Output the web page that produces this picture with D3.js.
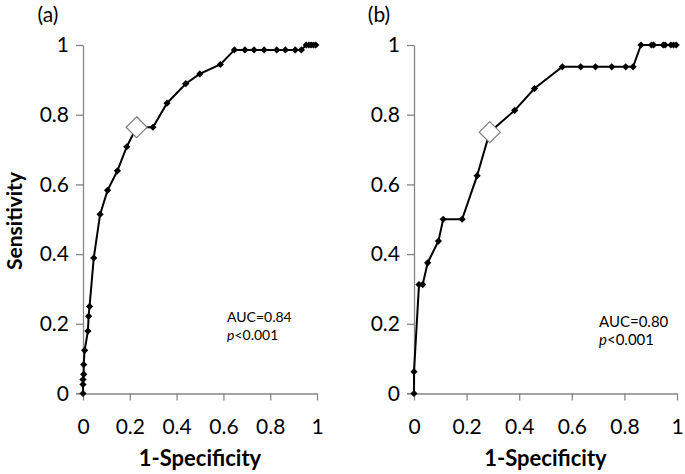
<!DOCTYPE html>
<html>
<head>
<meta charset="utf-8">
<script src="https://cdn.jsdelivr.net/npm/d3@7/dist/d3.min.js"></script>
<style>
  html, body { margin: 0; padding: 0; background: #fff; }
  svg { display: block; }
  text { font-family: Lato, "Open Sans", sans-serif; fill: #000; }
</style>
</head>
<body>
<svg id="chart" width="685" height="474"></svg>
<script>
// ----- data -----
const fprA  = [0, 0, 0, 0.003, 0.003, 0.007, 0.021, 0.024, 0.028, 0.046, 0.073, 0.105, 0.147, 0.187, 0.229, 0.299, 0.359, 0.439, 0.499, 0.587, 0.647, 0.692, 0.731, 0.774, 0.828, 0.865, 0.907, 0.933, 0.954, 0.965, 0.975, 0.985, 0.995];
const tprA  = [0, 0.026, 0.040, 0.055, 0.083, 0.124, 0.179, 0.222, 0.250, 0.389, 0.514, 0.583, 0.639, 0.708, 0.764, 0.764, 0.833, 0.889, 0.917, 0.944, 0.986, 0.986, 0.986, 0.986, 0.986, 0.986, 0.986, 0.986, 1, 1, 1, 1, 1];
const optA  = 14;   // index of the optimal cut-off point
const fprB  = [0, 0, 0.019, 0.033, 0.052, 0.093, 0.111, 0.183, 0.240, 0.288, 0.383, 0.458, 0.564, 0.634, 0.690, 0.752, 0.805, 0.833, 0.863, 0.903, 0.911, 0.948, 0.955, 0.977, 0.987, 0.997];
const tprB  = [0, 0.0625, 0.3125, 0.3125, 0.375, 0.4375, 0.5, 0.5, 0.625, 0.75, 0.8125, 0.875, 0.9375, 0.9375, 0.9375, 0.9375, 0.9375, 0.9375, 1, 1, 1, 1, 1, 1, 1, 1];
const optB  = 9;
const tickValues = [0, 0.2, 0.4, 0.6, 0.8, 1];
const panelLabels = ["(a)", "(b)"];
const aucLabels = ["AUC=0.84", "AUC=0.80"];
const pLabels = ["<0.001", "<0.001"];
const xTitle = "1-Specificity";
const yTitle = "Sensitivity";

// ----- drawing -----
const svg = d3.select("#chart");
const axisColor = "#868686";
const fontFam = 'Lato, "Open Sans", sans-serif';
const diamond = r => `M0,${-r}L${r},0L0,${r}L${-r},0Z`;

const panels = [
  { fpr: fprA, tpr: tprA, opt: optA, x0: 83, x1: 317, label: panelLabels[0], lblX: 48,
    auc: aucLabels[0], p: pLabels[0], textX: 227, aucY: 322, pY: 340, tSize: 14 },
  { fpr: fprB, tpr: tprB, opt: optB, x0: 414, x1: 677, label: panelLabels[1], lblX: 379,
    auc: aucLabels[1], p: pLabels[1], textX: 599, aucY: 327, pY: 345, tSize: 15 }
];
const yTop = 45, yBot = 393.5;

panels.forEach((P, pi) => {
  const x = d3.scaleLinear().domain([0, 1]).range([P.x0, P.x1]);
  const y = d3.scaleLinear().domain([0, 1]).range([yBot, yTop]);
  const g = svg.append("g");

  // y axis
  const ya = g.append("g").attr("transform", `translate(${P.x0},0)`)
    .call(d3.axisLeft(y).tickValues(tickValues).tickSize(7).tickSizeOuter(0)
      .tickFormat(d3.format("~g")));
  ya.selectAll("text").attr("x", -14).attr("font-size", 21)
    .style("font-family", fontFam);
  // x axis
  const xa = g.append("g").attr("transform", `translate(0,${yBot})`)
    .call(d3.axisBottom(x).tickValues(tickValues).tickSize(7).tickSizeOuter(0)
      .tickFormat(d3.format("~g")));
  xa.selectAll("text").attr("y", 26).attr("font-size", 21)
    .style("font-family", fontFam);
  [ya, xa].forEach(a => {
    a.select(".domain").attr("stroke", axisColor).attr("stroke-width", 1.3);
    a.selectAll(".tick line").attr("stroke", axisColor).attr("stroke-width", 1.3);
    a.selectAll(".tick text").attr("fill", "#000");
  });
  // extend x-axis line to left end of y ticks
  g.append("line").attr("x1", P.x0 - 7).attr("x2", P.x0).attr("y1", yBot).attr("y2", yBot)
    .attr("stroke", axisColor).attr("stroke-width", 1.3);

  const pts = P.fpr.map((f, i) => [f, P.tpr[i]]);
  g.append("path").datum(pts)
    .attr("d", d3.line().x(d => x(d[0])).y(d => y(d[1])))
    .attr("fill", "none").attr("stroke", "#000").attr("stroke-width", 2);
  g.selectAll("path.mk").data(pts.filter((d, i) => i !== P.opt)).join("path")
    .attr("class", "mk")
    .attr("transform", d => `translate(${x(d[0])},${y(d[1])})`)
    .attr("d", diamond(3.6)).attr("fill", "#000");
  const o = pts[P.opt];
  g.append("path").attr("transform", `translate(${x(o[0])},${y(o[1])})`)
    .attr("d", diamond(10.5)).attr("fill", "#fff").attr("stroke", "#7f7f7f").attr("stroke-width", 1.2);

  // panel label
  g.append("text").attr("x", P.lblX).attr("y", 22).attr("text-anchor", "middle")
    .attr("font-size", 21).text(P.label);
  // AUC annotation
  g.append("text").attr("x", P.textX).attr("y", P.aucY).attr("font-size", P.tSize).text(P.auc);
  const pt = g.append("text").attr("x", P.textX).attr("y", P.pY).attr("font-size", P.tSize);
  pt.append("tspan").attr("font-style", "italic").text("p");
  pt.append("tspan").text(P.p);

  // x title
  g.append("text").attr("x", (P.x0 + P.x1) / 2).attr("y", 466).attr("text-anchor", "middle")
    .attr("font-size", 22).attr("font-weight", "bold").text(xTitle);
});

// y title
svg.append("text").attr("transform", "translate(22,221) rotate(-90)")
  .attr("text-anchor", "middle").attr("font-size", 21).attr("font-weight", "bold").text(yTitle);
</script>
</body>
</html>
